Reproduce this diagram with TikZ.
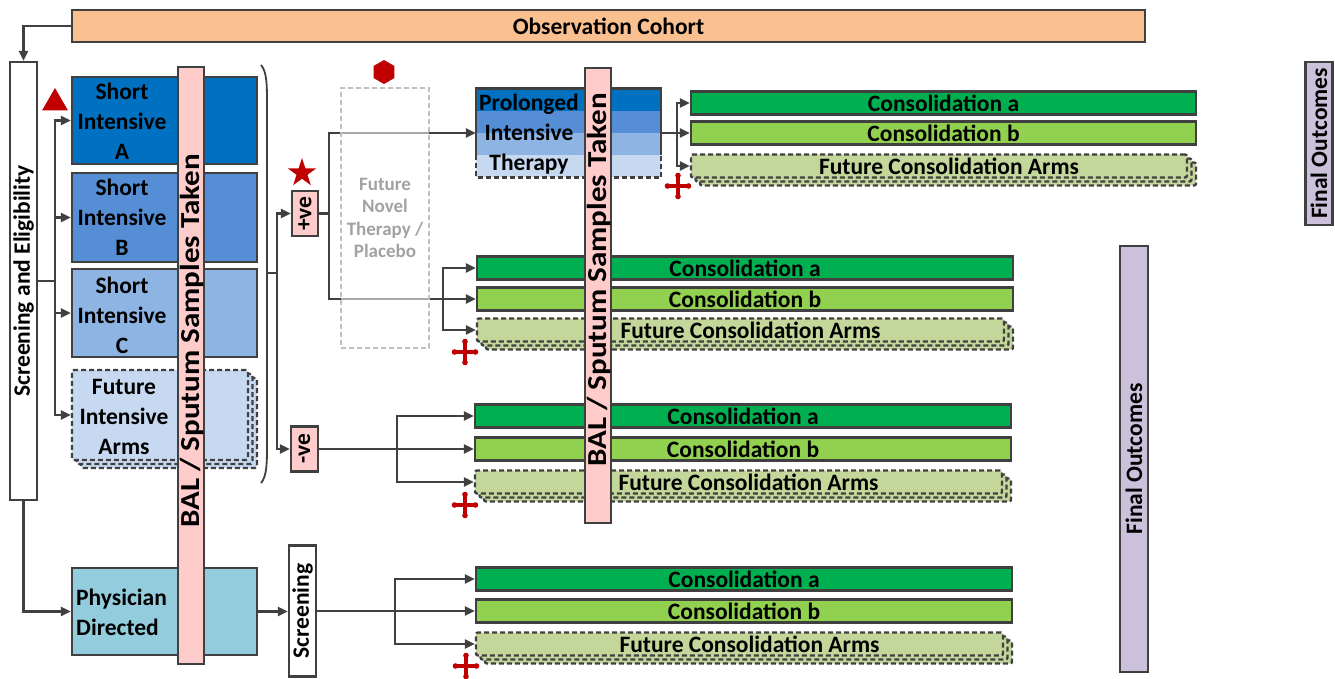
\documentclass[tikz,border=0pt]{standalone}
\usepackage{fontspec}
\setmainfont{Carlito}
\usetikzlibrary{positioning,calc,shapes.geometric,arrows.meta}
\definecolor{colorCOH}{HTML}{FAC090}
\definecolor{colorSIA}{HTML}{0070C0}
\definecolor{colorSIB}{HTML}{558ED5}
\definecolor{colorSIC}{HTML}{8EB4E3}
\definecolor{colorFIA}{HTML}{C6D9F1}
\definecolor{colorBAL}{HTML}{FFCCCC}
\definecolor{colorCA}{HTML}{00B050}
\definecolor{colorCB}{HTML}{92D050}
\definecolor{colorFCA}{HTML}{C4D79B}
\definecolor{colorPHY}{HTML}{93CDDD}
\definecolor{colorFO}{HTML}{CCC1DA}
\definecolor{colorLN}{HTML}{404040}
\definecolor{colorMK}{HTML}{C00000}
\definecolor{colorFNT}{HTML}{BFBFBF}
% red four-arm marker under each set of future arms
\newcommand{\rcross}[1]{%
  \begin{scope}[shift={(#1)}]
    \draw[colorMK, line width=3.4pt] (-10.5,0) -- (10.5,0) (0,-10.5) -- (0,10.5);
    \foreach \p in {(-10.5,0),(10.5,0),(0,-10.5),(0,10.5)}
      \fill[colorMK] \p circle (2.8pt);
  \end{scope}}
\tikzset{
   every path/.style={>={Triangle[length=10pt,width=9pt]}},
   conn/.style={draw=colorLN, line width=2.4pt},
   arr/.style={->, draw=colorLN, line width=2.4pt},
   box/.style={draw=colorLN, line width=2.4pt, inner sep=0pt},
   txt/.style={font=\fontsize{23.5}{30}\selectfont\bfseries, align=center, inner sep=0pt},
   vtxt/.style={txt, rotate=90},
   baltxt/.style={font=\fontsize{27.5}{32}\selectfont\bfseries, inner sep=0pt, rotate=90, xscale=1.13},
   dsh/.style={dash pattern=on 5pt off 3pt},
   fia/.style={box, dsh, fill=colorFIA, rounded corners=2pt,
      preaction={draw=colorLN, line width=2.4pt, dsh, fill=colorFIA, transform canvas={shift={(9pt,-8pt)}}},
      preaction={draw=colorLN, line width=2.4pt, dsh, fill=colorFIA, transform canvas={shift={(4.5pt,-4pt)}}}},
   fca/.style={box, dsh, fill=colorFCA, rounded corners=2pt, minimum height=23pt,
      preaction={draw=colorLN, line width=2.4pt, dsh, fill=colorFCA, transform canvas={shift={(9pt,-8pt)}}},
      preaction={draw=colorLN, line width=2.4pt, dsh, fill=colorFCA, transform canvas={shift={(4.5pt,-4pt)}}},
      label={[txt, xshift=10pt]center:Future Consolidation Arms}},
   cab/.style={box, txt, minimum height=23pt},
   fntbox/.style={draw=colorFNT, line width=2.4pt, dsh, fill=white, fill opacity=0.55, text opacity=1,
      text=colorFNT!85!black, font=\fontsize{19}{22.5}\selectfont\bfseries, align=center, inner sep=0pt},
}
\begin{document}
\begin{tikzpicture}[x=1pt,y=-1pt]
\useasboundingbox (0,0) rectangle (1335,679);
% cohort and screening
\node[box, txt, fill=colorCOH, minimum width=1073pt, minimum height=32pt] (coh) at (608.5,26) {Observation Cohort};
\node[box, fill=white, minimum width=27pt, minimum height=438pt] (scr) at (23.5,281) {};
\node[vtxt] (scrt) at (scr) {Screening and Eligibility};
% intensive arms
\node[box, fill=colorSIA, minimum width=185pt, minimum height=87pt] (sia) at (164.5,120.5) {};
\node[box, fill=colorSIB, minimum width=185pt, minimum height=89pt] (sib) at (164.5,217.5) {};
\node[box, fill=colorSIC, minimum width=185pt, minimum height=88pt] (sic) at (164.5,313) {};
\node[fia, minimum width=176pt, minimum height=90pt] (fia) at (160,415) {};
\node[txt] (siat) at (122,121) {Short\\Intensive\\A};
\node[txt] (sibt) at (122,217) {Short\\Intensive\\B};
\node[txt] (sict) at (122,315) {Short\\Intensive\\C};
\node[txt] (fiat) at (124,417) {Future\\Intensive\\Arms};
\node[box, fill=colorPHY, minimum width=185pt, minimum height=87pt] (phy) at (164.5,611.5) {};
\node[txt, anchor=west, align=left] (phyt) at (76,612) {Physician\\Directed};
% prolonged intensive therapy
\fill[colorSIA] (476,88.5) rectangle (661,111);
\fill[colorSIB] (476,111) rectangle (661,133);
\fill[colorSIC] (476,133) rectangle (661,155);
\fill[colorFIA] (476,155) rectangle (661,177.5);
\node[minimum width=185pt, minimum height=89pt, inner sep=0pt] (pit) at (568.5,133) {};
\draw[conn] (476,155) |- (661,88.5) -- (661,155);
\draw[conn, dsh] (476,155) |- (661,177.5) -- (661,155);
\node[txt] (pitt) at (529,134) {Prolonged\\Intensive\\Therapy};
% consolidation arms
\node[cab, fill=colorCA, minimum width=505pt] (ca1) at (943.5,103) {Consolidation a};
\node[cab, fill=colorCB, minimum width=505pt] (cb1) at (943.5,133) {Consolidation b};
\node[fca, minimum width=496pt] (fu1) at (939,166) {};
\node[cab, fill=colorCA, minimum width=536pt] (ca2) at (745,268) {Consolidation a};
\node[cab, fill=colorCB, minimum width=536pt] (cb2) at (745,299) {Consolidation b};
\node[fca, minimum width=527pt] (fu2) at (740.5,330) {};
\node[cab, fill=colorCA, minimum width=536pt] (ca3) at (743,416) {Consolidation a};
\node[cab, fill=colorCB, minimum width=536pt] (cb3) at (743,449) {Consolidation b};
\node[fca, minimum width=527pt] (fu3) at (738.5,482) {};
\node[cab, fill=colorCA, minimum width=536pt] (ca4) at (744,579) {Consolidation a};
\node[cab, fill=colorCB, minimum width=536pt] (cb4) at (744,611) {Consolidation b};
\node[fca, minimum width=527pt] (fu4) at (739.5,644) {};
% sampling bars
\node[box, fill=colorBAL, minimum width=26pt, minimum height=597pt] (bal1) at (191,365.5) {};
\node[baltxt] (bal1t) at (192,341) {BAL / Sputum Samples Taken};
\node[box, fill=colorBAL, minimum width=26pt, minimum height=455pt] (bal2) at (598,295.5) {};
\node[baltxt] (bal2t) at (599,280) {BAL / Sputum Samples Taken};
% result boxes
\node[box, fill=colorBAL, minimum width=26pt, minimum height=45pt] (pos) at (305,213.5) {};
\node[vtxt] (post) at (pos) {+ve};
\node[box, fill=colorBAL, minimum width=27pt, minimum height=45pt] (neg) at (304.5,449) {};
\node[vtxt] (negt) at (neg) {-ve};
\node[box, fill=white, minimum width=27pt, minimum height=131pt] (scn) at (302.5,611) {};
\node[vtxt] (scnt) at (scn) {Screening};
\node[box, fill=colorFO, minimum width=27pt, minimum height=163pt] (fo1) at (1319,143.5) {};
\node[vtxt] (fo1t) at (fo1) {Final Outcomes};
\node[box, fill=colorFO, minimum width=28pt, minimum height=426pt] (fo2) at (1134,459) {};
\node[vtxt] (fo2t) at (fo2) {Final Outcomes};
% bracket round the intensive arms
\draw[colorLN, line width=1.8pt] (261,65) .. controls (267,72) and (267,85) .. (267,105) -- (267,443) .. controls (267,463) and (267,476) .. (261,483);
\coordinate (brk) at (267,273);
% forks
\coordinate (f0) at (55,281);
\coordinate (f1) at (277,273);
\coordinate (f2) at (329,213.5);
\coordinate (f3) at (443,299);
\coordinate (f4) at (677,133);
\coordinate (f5) at (397,449);
\coordinate (f6) at (395,611);
% connectors
\draw[arr] (coh.west) -| (scr.north);
\draw[conn] (scr.east |- f0) -- (f0);
\draw[arr] (f0) |- (sia.west);
\draw[arr] (f0) |- (sib.west);
\draw[arr] (f0) |- (sic.west);
\draw[arr] (f0) |- (fia.west);
\draw[arr] (scr.south) |- (phy.west);
\draw[conn] (brk) -- (f1);
\draw[arr] (f1) |- (pos.west);
\draw[arr] (f1) |- (neg.west);
\draw[conn] (pos.east) -- (f2);
\draw[arr] (f2) |- (pit.west);
\draw[conn] (f2) |- (f3);
\draw[arr] (f3) |- (ca2.west);
\draw[arr] (f3) -- (cb2.west);
\draw[arr] (f3) |- (fu2.west);
\draw[conn] (pit.east) -- (f4);
\draw[arr] (f4) |- (ca1.west);
\draw[arr] (f4) -- (cb1.west);
\draw[arr] (f4) |- (fu1.west);
\draw[conn] (neg.east) -- (f5);
\draw[arr] (f5) |- (ca3.west);
\draw[arr] (f5) -- (cb3.west);
\draw[arr] (f5) |- (fu3.west);
\draw[arr] (phy.east) -- (scn.west |- phy.east);
\draw[conn] (scn.east |- f6) -- (f6);
\draw[arr] (f6) |- (ca4.west);
\draw[arr] (f6) -- (cb4.west);
\draw[arr] (f6) |- (fu4.west);
% novel therapy placeholder
\node[fntbox, minimum width=88pt, minimum height=260pt] (fnt) at (385,218) {Future\\Novel\\Therapy /\\Placebo};
% markers
\node[regular polygon, regular polygon sides=3, fill=colorMK, minimum size=30pt, inner sep=0pt] (tri) at (55,103) {};
\node[star, star points=5, star point ratio=2.6, fill=colorMK, minimum size=30pt, inner sep=0pt] (stp) at (302,173) {};
\node[regular polygon, regular polygon sides=6, shape border rotate=30, fill=colorMK, minimum size=24pt, inner sep=0pt] (hex) at (384,72) {};
\rcross{678,186}
\rcross{465,352}
\rcross{465,505}
\rcross{466,666}
\end{tikzpicture}
\end{document}
